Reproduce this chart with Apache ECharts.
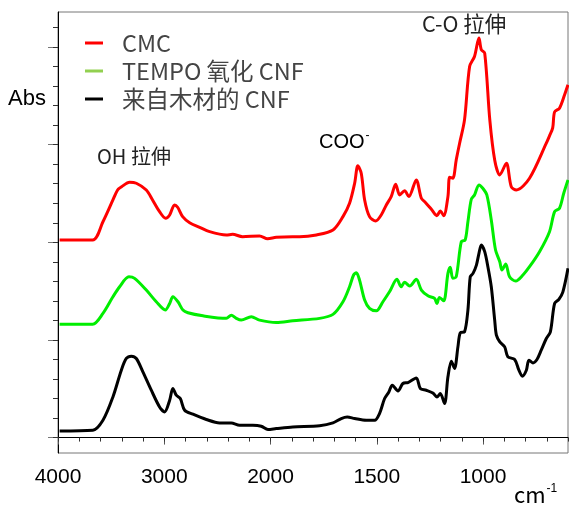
<!DOCTYPE html>
<html><head><meta charset="utf-8">
<script src="https://cdn.jsdelivr.net/npm/echarts@6/dist/echarts.min.js"></script>
<style>html,body{margin:0;padding:0;background:#fff}#c{width:569px;height:506px}</style>
</head><body><div id="c"></div>
<script>
// Series names
const seriesNames = ['CMC', 'TEMPO 氧化 CNF', '来自木材的 CNF'];
// Wavenumbers (cm-1) and absorbance (offset, arbitrary units)
const cmcWn = [3985,3674,3577,3483,3439,3401,3326,3263,3169,3110,3044,2987,2949,2903,2874,2827,2761,2667,2573,2416,2357,2263,2103,2027,1973,1896,1863,1784,1706,1659,1628,1604,1589,1573,1557,1534,1505,1479,1455,1432,1411,1392,1369,1349,1314,1290,1270,1243,1217,1201,1185,1165,1157,1142,1126,1110,1087,1063,1040,1019,1008,992,968,945,921,890,867,843,781,702,687,672,663,640,616,600];
const cmcAbs = [2.024,2.024,2.211,2.434,2.536,2.570,2.615,2.605,2.536,2.434,2.314,2.246,2.280,2.383,2.359,2.263,2.201,2.154,2.109,2.075,2.082,2.057,2.065,2.037,2.051,2.057,2.057,2.075,2.126,2.263,2.400,2.605,2.783,2.708,2.434,2.263,2.218,2.280,2.383,2.468,2.595,2.485,2.529,2.468,2.639,2.451,2.406,2.338,2.273,2.321,2.273,2.468,2.667,2.656,2.844,3.015,3.254,3.801,3.904,4.092,3.972,3.938,3.254,2.844,2.690,2.810,2.570,2.536,2.656,3.015,3.090,3.172,3.336,3.374,3.511,3.613];
const tempoWn = [3985,3674,3577,3483,3420,3333,3279,3169,3075,2990,2949,2919,2871,2824,2777,2636,2416,2369,2322,2275,2181,2103,1973,1895,1769,1706,1659,1628,1609,1596,1581,1557,1534,1502,1471,1440,1405,1385,1369,1345,1314,1290,1259,1228,1217,1205,1185,1165,1154,1142,1126,1102,1084,1071,1055,1040,1019,1001,982,961,941,921,911,893,875,846,812,781,734,687,663,640,620,600];
const tempoAbs = [1.162,1.162,1.272,1.442,1.545,1.647,1.631,1.511,1.391,1.306,1.374,1.442,1.391,1.306,1.278,1.247,1.221,1.254,1.221,1.203,1.237,1.203,1.179,1.196,1.221,1.262,1.391,1.545,1.665,1.688,1.613,1.408,1.323,1.298,1.391,1.493,1.621,1.545,1.590,1.552,1.621,1.511,1.452,1.426,1.374,1.436,1.401,1.682,1.744,1.631,1.647,2.006,2.024,2.211,2.441,2.485,2.588,2.554,2.485,2.229,1.921,1.801,1.716,1.777,1.647,1.603,1.665,1.750,1.904,2.109,2.314,2.349,2.503,2.639];
const woodWn = [3985,3672,3577,3483,3404,3357,3310,3263,3201,3122,3044,2997,2949,2919,2887,2849,2808,2730,2604,2479,2369,2291,2166,2087,2024,1973,1895,1769,1706,1667,1639,1604,1549,1510,1487,1463,1443,1427,1400,1377,1353,1314,1295,1267,1236,1217,1201,1181,1165,1149,1134,1118,1107,1087,1071,1060,1047,1031,1019,1008,992,977,961,945,937,921,898,883,851,831,815,796,784,765,746,726,702,683,663,643,624,600];
const woodAbs = [0.068,0.075,0.177,0.416,0.690,0.810,0.834,0.810,0.673,0.485,0.314,0.263,0.383,0.503,0.434,0.400,0.280,0.239,0.185,0.150,0.150,0.126,0.126,0.116,0.082,0.092,0.109,0.121,0.150,0.195,0.211,0.195,0.177,0.177,0.246,0.400,0.468,0.536,0.478,0.554,0.564,0.611,0.503,0.485,0.457,0.416,0.451,0.349,0.622,0.783,0.708,0.929,1.073,1.083,1.306,1.647,1.682,1.767,1.887,1.972,1.904,1.750,1.545,1.203,1.049,0.981,0.929,0.827,0.800,0.690,0.629,0.690,0.793,0.765,0.800,0.895,1.015,1.083,1.374,1.415,1.493,1.733];
// Axis tick labels (cm-1)
const xTickLabels = [4000, 3000, 2000, 1500, 1000];
const yMajorTicks = [0, 1, 2, 3, 4];

// Split wavenumber scale: above 2000 cm-1 the scale is compressed by 2
const toU = w => (w <= 2000 ? w : 2000 + (w - 2000) / 2);
const fromU = u => (u <= 2000 ? u : 2000 + (u - 2000) * 2);
const pair = (wn, ab) => wn.map((w, i) => [toU(w), ab[i]]);

const xMinorTicks = [];
for (let u = 600; u <= 3000; u += 100) xMinorTicks.push(u);
const yMinorTicks = [];
for (let k = 0; k <= 21; k++) yMinorTicks.push(+(k * 0.2).toFixed(1));

const YMIN = -0.158, YMAX = 4.359;
const chart = echarts.init(document.getElementById('c'), null, {renderer: 'canvas'});
const lat = 'Liberation Sans, Arial, Noto Sans CJK SC, sans-serif';
const cjk = 'Noto Sans CJK SC, Noto Sans, sans-serif';

chart.setOption({
  animation: false,
  backgroundColor: '#fff',
  grid: {left: 58, top: 12, width: 510, height: 441, show: true, borderColor: '#777', borderWidth: 1, containLabel: false},
  xAxis: [{
    type: 'value', inverse: true, min: 600, max: 3000, interval: 100,
    axisLine: {show: true, lineStyle: {color: '#000', width: 1}},
    axisTick: {show: true, inside: false, length: 7, customValues: xTickLabels.map(toU), lineStyle: {color: '#555'}},
    axisLabel: {show: true, margin: 14, customValues: xTickLabels.map(toU), formatter: v => String(Math.round(fromU(v))), color: '#000', fontSize: 21, fontFamily: lat},
    splitLine: {show: false}
  }, {
    type: 'value', inverse: true, min: 600, max: 3000, interval: 100, position: 'bottom',
    axisLine: {show: false},
    axisTick: {show: true, inside: false, length: 4, customValues: xMinorTicks, lineStyle: {color: '#333'}},
    axisLabel: {show: false}, splitLine: {show: false}
  }],
  yAxis: [{
    type: 'value', min: YMIN, max: YMAX,
    axisLine: {show: true, lineStyle: {color: '#000', width: 1}},
    axisTick: {show: true, inside: false, length: 10, customValues: yMajorTicks, lineStyle: {color: '#777'}},
    axisLabel: {show: false}, splitLine: {show: false}
  }, {
    type: 'value', min: YMIN, max: YMAX, position: 'left',
    axisLine: {show: false},
    axisTick: {show: true, inside: false, length: 5, customValues: yMinorTicks, lineStyle: {color: '#333'}},
    axisLabel: {show: false}, splitLine: {show: false}
  }],
  legend: {
    orient: 'vertical', left: 80, top: 26, itemWidth: 18, itemHeight: 3, itemGap: 4, icon: 'rect',
    textStyle: {fontSize: 23.5, lineHeight: 24, color: '#444', fontFamily: cjk, padding: [0, 0, 0, 14]},
    data: [
      {name: seriesNames[0], itemStyle: {color: '#ff0000'}},
      {name: seriesNames[1], itemStyle: {color: '#92d050'}},
      {name: seriesNames[2], itemStyle: {color: '#000000'}}
    ]
  },
  series: [
    {name: seriesNames[0], type: 'line', data: pair(cmcWn, cmcAbs), showSymbol: false, symbol: 'none', smooth: 0.3, lineStyle: {color: '#ff0000', width: 3}, itemStyle: {color: '#ff0000'}},
    {name: seriesNames[1], type: 'line', data: pair(tempoWn, tempoAbs), showSymbol: false, symbol: 'none', smooth: 0.3, lineStyle: {color: '#00ee00', width: 3}, itemStyle: {color: '#00ee00'}},
    {name: seriesNames[2], type: 'line', data: pair(woodWn, woodAbs), showSymbol: false, symbol: 'none', smooth: 0.3, lineStyle: {color: '#000', width: 3}, itemStyle: {color: '#000'}}
  ],
  graphic: [
    {type: 'text', left: 8, top: 88, style: {text: 'Abs', font: '22px ' + lat, fill: '#000'}},
    {type: 'text', left: 97, top: 146, style: {text: 'OH 拉伸', font: '20px ' + cjk, fill: '#222'}},
    {type: 'text', left: 319, top: 130, style: {text: '{b|COO}{s|-}', rich: {b: {fontSize: 20, fontFamily: lat, color: '#222', verticalAlign: 'bottom'}, s: {fontSize: 12, fontFamily: lat, color: '#222', verticalAlign: 'top', padding: [0, 0, 10, 1]}}}},
    {type: 'text', left: 422, top: 13, style: {text: 'C-O 拉伸', font: '21.5px ' + cjk, fill: '#222'}},
    {type: 'text', left: 514, top: 483, style: {text: '{b|cm}{s|-1}', rich: {b: {fontSize: 22, fontFamily: cjk, color: '#444'}, s: {fontSize: 12, fontFamily: lat, color: '#444', padding: [0, 0, 12, 1]}}}}
  ]
});
</script></body></html>
